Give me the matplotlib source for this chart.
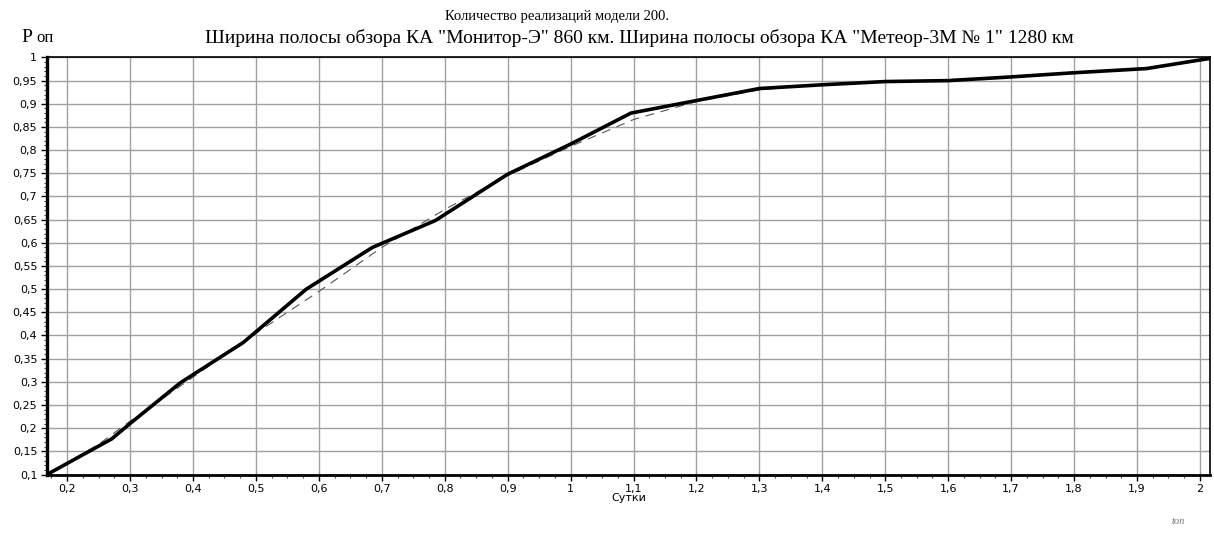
#!/usr/bin/env python3
"""
Вероятность обзора Pоп в зависимости от времени (сутки), 200 реализаций модели.
"""
import numpy as np
import matplotlib
matplotlib.use("Agg")
import matplotlib.pyplot as plt
from matplotlib.ticker import MultipleLocator, FuncFormatter

# data
days = [0.168, 0.271, 0.30, 0.38, 0.48, 0.58, 0.685, 0.785, 0.90, 1.0, 1.096,
        1.2, 1.3, 1.4, 1.5, 1.6, 1.7, 1.8, 1.915, 2.016]
p_model = [0.100, 0.177, 0.210, 0.298, 0.385, 0.500, 0.590, 0.648, 0.748, 0.813, 0.880,
           0.907, 0.933, 0.941, 0.948, 0.950, 0.958, 0.967, 0.976, 0.998]

# thin dashed approximation curve
days_fit = [0.168, 0.25, 0.30, 0.40, 0.50, 0.60, 0.70, 0.80, 0.90, 1.0, 1.1,
            1.2, 1.3, 1.4, 1.5, 1.6, 1.7, 1.8, 1.9, 2.016]
p_fit = [0.100, 0.165, 0.215, 0.310, 0.405, 0.495, 0.590, 0.672, 0.745, 0.808, 0.866,
         0.905, 0.930, 0.942, 0.948, 0.952, 0.958, 0.966, 0.975, 0.998]

fig = plt.figure(figsize=(12.14, 5.42), dpi=100)
ax = fig.add_axes([0.0387, 0.1245, 0.958, 0.7695])

ax.plot(days_fit, p_fit, color="#555555", lw=0.8, ls=(0, (8, 6)), zorder=3)
ax.plot(days, p_model, color="black", lw=2.6, solid_joinstyle="round", zorder=4)

ax.set_xlim(0.168, 2.016)
ax.set_ylim(0.1, 1.0)
ax.xaxis.set_major_locator(MultipleLocator(0.1))
ax.xaxis.set_minor_locator(MultipleLocator(0.025))
ax.yaxis.set_major_locator(MultipleLocator(0.05))
ax.yaxis.set_minor_locator(MultipleLocator(0.01))

def comma(v, pos):
    s = ("%.2f" % v).rstrip("0").rstrip(".")
    return s.replace(".", ",")

ax.xaxis.set_major_formatter(FuncFormatter(comma))
ax.yaxis.set_major_formatter(FuncFormatter(comma))
ax.tick_params(which="major", length=4, width=1, labelsize=8, color="black", pad=3)
ax.tick_params(which="minor", length=2, width=0.8, color="#444444")
for lbl in ax.get_xticklabels() + ax.get_yticklabels():
    lbl.set_family("DejaVu Sans")

ax.grid(True, which="major", color="#a0a0a0", lw=1.0)
ax.set_axisbelow(True)
ax.spines["left"].set_linewidth(2.4)
ax.spines["bottom"].set_linewidth(2.0)
ax.spines["top"].set_linewidth(1.2)
ax.spines["right"].set_linewidth(1.2)

ax.set_xlabel("Сутки", fontsize=8, labelpad=-1)

fig.text(0.459, 0.969, "Количество реализаций модели 200.", ha="center", va="center",
         family="Liberation Serif", fontsize=10.5)
fig.text(0.527, 0.929, 'Ширина полосы обзора КА "Монитор-Э" 860 км. Ширина полосы обзора КА "Метеор-3М № 1" 1280 км',
         ha="center", va="center", family="Liberation Serif", fontsize=14)
fig.text(0.018, 0.922, "P", ha="left", va="baseline", family="Liberation Serif", fontsize=14)
fig.text(0.030, 0.922, "оп", ha="left", va="baseline", family="Liberation Serif", fontsize=12)
fig.text(0.965, 0.037, "tоп", ha="left", va="center", family="Liberation Serif",
         style="italic", fontsize=7.5, color="#777777")

fig.savefig("out.png", dpi=100)
